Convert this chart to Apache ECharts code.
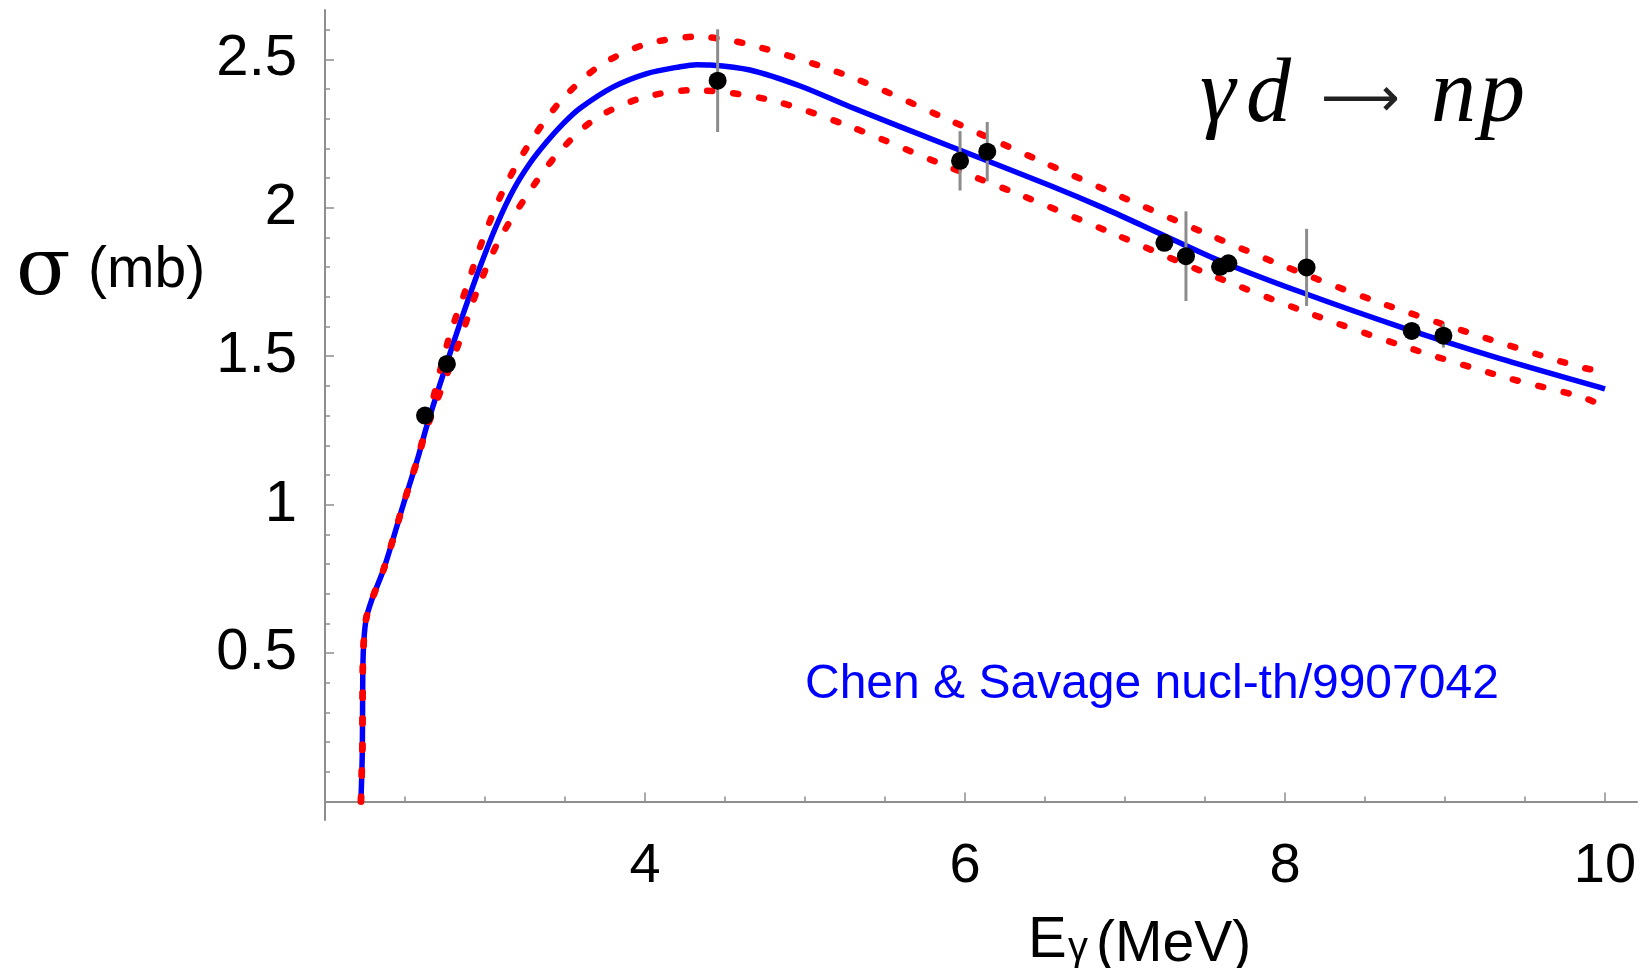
<!DOCTYPE html>
<html>
<head>
<meta charset="utf-8">
<script src="https://cdn.jsdelivr.net/npm/echarts@6/dist/echarts.min.js"></script>
<style>
  html, body { margin: 0; padding: 0; background: #fff; }
  #main { width: 1643px; height: 968px; }
</style>
</head>
<body>
<div id="main"></div>
<script>
// measured points (E in MeV, sigma in mb)
var energyPts = [2.625, 2.762, 4.454, 5.969, 6.139, 7.246, 7.381, 7.594, 7.646, 8.135, 8.792, 8.990];
var sigmaPts  = [1.300, 1.474, 2.428, 2.158, 2.189, 1.882, 1.837, 1.801, 1.813, 1.799, 1.585, 1.569];
var sigmaErr  = [0, 0, 0.173, 0.10, 0.10, 0, 0.151, 0, 0, 0.13, 0, 0.04];

// theory curve and its band
var centralCurve = [
    [2.2246, 0], [2.233, 0.163], [2.235, 0.331], [2.239, 0.50], [2.256, 0.612], [2.292, 0.679],
    [2.365, 0.780], [2.427, 0.887], [2.479, 0.982], [2.531, 1.072], [2.583, 1.162], [2.635, 1.263],
    [2.761, 1.476], [2.865, 1.644], [2.969, 1.801], [3.073, 1.942], [3.177, 2.060], [3.281, 2.150],
    [3.386, 2.222], [3.49, 2.284], [3.594, 2.335], [3.802, 2.407], [4.011, 2.452], [4.219, 2.475],
    [4.323, 2.482], [4.406, 2.481], [4.656, 2.464], [4.97, 2.410], [5.281, 2.340], [5.906, 2.207],
    [6.531, 2.075], [6.875, 1.997], [7.25, 1.905], [7.62, 1.815], [8.094, 1.717], [8.719, 1.599],
    [9.344, 1.492], [9.969, 1.395], [10.0, 1.390]
];
var upperCurve = [
    [2.2246, 0], [2.233, 0.163], [2.235, 0.331], [2.239, 0.50], [2.256, 0.612], [2.292, 0.679],
    [2.365, 0.780], [2.427, 0.887], [2.479, 0.982], [2.531, 1.072], [2.583, 1.165], [2.635, 1.27],
    [2.771, 1.555], [2.886, 1.734], [2.989, 1.897], [3.115, 2.060], [3.271, 2.211], [3.469, 2.357],
    [3.708, 2.475], [3.99, 2.548], [4.323, 2.576], [4.65, 2.550], [5.275, 2.443], [5.865, 2.304],
    [6.469, 2.158], [6.917, 2.051], [7.521, 1.910], [7.969, 1.809], [8.573, 1.684], [9.198, 1.571],
    [9.833, 1.465], [10.0, 1.447]
];
var lowerCurve = [
    [2.2246, 0], [2.233, 0.163], [2.235, 0.331], [2.239, 0.50], [2.256, 0.612], [2.292, 0.679],
    [2.365, 0.780], [2.427, 0.887], [2.479, 0.982], [2.531, 1.072], [2.583, 1.158], [2.635, 1.255],
    [2.844, 1.555], [2.948, 1.717], [3.083, 1.886], [3.25, 2.032], [3.438, 2.172], [3.677, 2.295],
    [3.969, 2.368], [4.302, 2.396], [4.781, 2.363], [5.26, 2.278], [5.844, 2.149], [6.323, 2.048],
    [6.917, 1.915], [7.521, 1.777], [8.125, 1.650], [8.739, 1.534], [9.375, 1.429], [9.844, 1.364],
    [10.0, 1.331]
];

// tick labels and minor ticks
var xTickLabels = [4, 6, 8, 10];
var xMinorTicks = [2.5, 3, 3.5, 4.5, 5, 5.5, 6.5, 7, 7.5, 8.5, 9, 9.5];
var yTickLabels = [0.5, 1, 1.5, 2, 2.5];
var yMinorTicks = [0.1, 0.2, 0.3, 0.4, 0.6, 0.7, 0.8, 0.9, 1.1, 1.2, 1.3, 1.4, 1.6, 1.7, 1.8, 1.9,
                   2.1, 2.2, 2.3, 2.4, 2.6];

var axisGray = '#8e8e8e';
var labelFont = '"Liberation Sans", Arial, sans-serif';
var mathFont = '"Liberation Serif", serif';

var chart = echarts.init(document.getElementById('main'));

var scatterData = energyPts.map(function (e, i) { return [e, sigmaPts[i]]; });
var errData = [];
energyPts.forEach(function (e, i) {
    if (sigmaErr[i] > 0) {
        errData.push([e, sigmaPts[i] - sigmaErr[i], sigmaPts[i] + sigmaErr[i]]);
    }
});

function xAxisBase(extra) {
    var a = {
        type: 'value',
        min: 2,
        max: 10.2,
        position: 'bottom',
        splitLine: { show: false },
        axisLine: { show: true, onZero: true, lineStyle: { color: axisGray, width: 2 } }
    };
    return Object.assign(a, extra);
}
function yAxisBase(extra) {
    var a = {
        type: 'value',
        min: -0.062,
        max: 2.666,
        position: 'left',
        splitLine: { show: false },
        axisLine: { show: true, onZero: false, lineStyle: { color: axisGray, width: 2 } }
    };
    return Object.assign(a, extra);
}

function mathLetter(ch, x) {
    return { type: 'text', x: x, y: 97, style: { text: ch, fill: '#000', fontSize: 90,
             fontStyle: 'italic', fontFamily: mathFont, textVerticalAlign: 'middle' } };
}

var bandStyle = { color: '#ff0000', width: 6.5, type: [5, 21], cap: 'round' };

option = {
    animation: false,
    backgroundColor: '#ffffff',
    grid: { left: 325, right: 6, top: 10, bottom: 148, containLabel: false },
    xAxis: [
        xAxisBase({
            axisTick: { show: true, inside: true, length: 9, customValues: xTickLabels,
                        lineStyle: { color: axisGray, width: 1.5 } },
            axisLabel: { show: true, customValues: xTickLabels, margin: 19, color: '#000',
                         fontSize: 56, fontFamily: labelFont }
        }),
        xAxisBase({
            axisLine: { show: false, onZero: true },
            axisTick: { show: true, inside: true, length: 5, customValues: xMinorTicks,
                        lineStyle: { color: axisGray, width: 1.5 } },
            axisLabel: { show: false }
        })
    ],
    yAxis: [
        yAxisBase({
            axisTick: { show: true, inside: true, length: 9, customValues: yTickLabels,
                        lineStyle: { color: axisGray, width: 1.5 } },
            axisLabel: { show: true, customValues: yTickLabels, margin: 28, color: '#000',
                         fontSize: 58, fontFamily: labelFont,
                         formatter: function (v) { return String(v); } }
        }),
        yAxisBase({
            axisLine: { show: false, onZero: false },
            axisTick: { show: true, inside: true, length: 5, customValues: yMinorTicks,
                        lineStyle: { color: axisGray, width: 1.5 } },
            axisLabel: { show: false }
        })
    ],
    graphic: [
        { type: 'text', x: 16, y: 273, style: { text: 'σ', fill: '#000', fontSize: 80,
          fontFamily: '"DejaVu Serif", serif', textVerticalAlign: 'middle' } },
        { type: 'text', x: 88, y: 271, style: { text: '(mb)', fill: '#000', fontSize: 57,
          fontFamily: labelFont, textVerticalAlign: 'middle' } },
        { type: 'text', x: 1028, y: 941, style: { text: 'E', fill: '#000', fontSize: 58,
          fontFamily: labelFont, textVerticalAlign: 'middle' } },
        { type: 'text', x: 1068, y: 949, style: { text: 'γ', fill: '#000', fontSize: 40,
          fontFamily: labelFont, textVerticalAlign: 'middle' } },
        { type: 'text', x: 1096, y: 945, style: { text: '(MeV)', fill: '#000', fontSize: 57,
          fontFamily: labelFont, textVerticalAlign: 'middle' } },
        mathLetter('γ', 1200),
        mathLetter('d', 1246),
        mathLetter('n', 1431),
        mathLetter('p', 1480),
        { type: 'text', x: 1321, y: 102, style: { text: '\u27F6', fill: '#222', fontSize: 55,
          fontFamily: '"DejaVu Sans", sans-serif', textVerticalAlign: 'middle' } },
        { type: 'text', x: 805, y: 685, style: { text: 'Chen & Savage nucl-th/9907042', fill: '#0000ff',
          fontSize: 48, fontFamily: labelFont, textVerticalAlign: 'middle' } }
    ],
    series: [
        {
            name: 'central',
            type: 'line',
            data: centralCurve,
            showSymbol: false,
            smooth: 0.3,
            lineStyle: { color: '#0000ff', width: 5.5 },
            z: 2
        },
        {
            name: 'upper',
            type: 'line',
            data: upperCurve,
            showSymbol: false,
            smooth: 0.3,
            lineStyle: bandStyle,
            z: 3
        },
        {
            name: 'lower',
            type: 'line',
            data: lowerCurve,
            showSymbol: false,
            smooth: 0.3,
            lineStyle: bandStyle,
            z: 3
        },
        {
            name: 'errors',
            type: 'custom',
            data: errData,
            encode: { x: 0, y: [1, 2] },
            renderItem: function (params, api) {
                var lo = api.coord([api.value(0), api.value(1)]);
                var hi = api.coord([api.value(0), api.value(2)]);
                return {
                    type: 'line',
                    shape: { x1: lo[0], y1: lo[1], x2: hi[0], y2: hi[1] },
                    style: { stroke: '#8c8c8c', lineWidth: 3 }
                };
            },
            z: 4
        },
        {
            name: 'data',
            type: 'scatter',
            data: scatterData,
            symbol: 'circle',
            symbolSize: 18,
            itemStyle: { color: '#000', opacity: 1 },
            z: 5
        }
    ]
};
chart.setOption(option);
</script>
</body>
</html>
